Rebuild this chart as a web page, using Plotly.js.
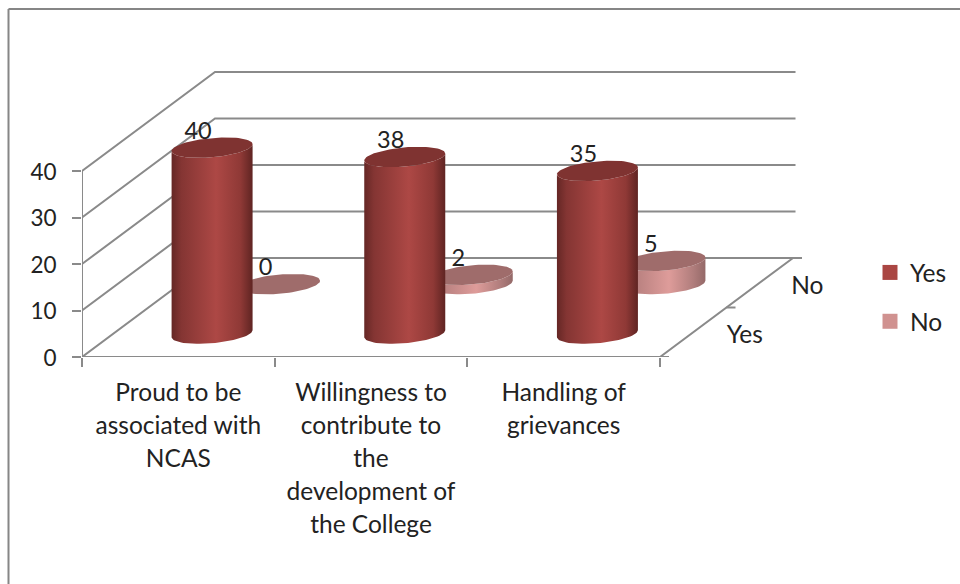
<!DOCTYPE html>
<html><head><meta charset="utf-8">
<script src="https://cdn.plot.ly/plotly-3.0.1.min.js"></script>
<style>html,body{margin:0;padding:0;background:#fff}#c{width:960px;height:584px}</style>
</head><body><div id="c"></div>
<script>
const categories = ["Proud to be<br>associated with<br>NCAS","Willingness to<br>contribute to<br>the<br>development of<br>the College","Handling of<br>grievances"];
const seriesNames = ["Yes","No"];
const yesValues = [40,38,35];
const noValues = [0,2,5];
const valueTicks = [0,10,20,30,40];

const FONT = "Lato, Carlito, sans-serif", TXT = "#222222", AX = "#8a8a8a";
const LEFT=82, RIGHT=850, BOTTOM=357, TOP=60;
const PXX=192.67, PXY=4.65;                 // px per category, px per value
const DX=135/PXX, DXW=133/PXX, DY=99/PXY;   // depth shear in data units (bars, walls)
const pt=(c,d,v)=>[c+d*DX, v+d*DY];
const wp=(c,d,v)=>[c+d*DXW, v+d*DY];
const px=(x)=>x/PXX, py=(y)=>y/PXY;

const traces=[];
function line(points,width){
  const x=[],y=[];
  points.forEach(p=>{ if(p){x.push(p[0]);y.push(p[1]);} else {x.push(null);y.push(null);} });
  traces.push({type:"scatter",mode:"lines",x,y,line:{color:AX,width:width||2},hoverinfo:"skip",showlegend:false});
}
// walls and floor
const nc=categories.length;
let g=[];
valueTicks.forEach(v=>{ const e=wp(nc,1,v); g.push(wp(0,0,v),wp(0,1,v),[e[0]+px(2.5),e[1]],null); });
line(g);
line([wp(0,0,0),wp(0,0,valueTicks[valueTicks.length-1]),null,wp(0,0,0),wp(nc,0,0),wp(nc,1,0)]);
// depth ticks
let dt=[];
[0,0.5,1].forEach(d=>{const p=wp(nc,d,0); dt.push(p,[p[0]+px(9),p[1]],null);});
line(dt);

const A=40.5,C=10.2,PHI=20*Math.PI/180;
function ring(c,d,v,t0,t1,n){
  const o=pt(c,d,v),r=[];
  for(let i=0;i<=n;i++){const t=t0+(t1-t0)*i/n;
    r.push([o[0]+px(A*Math.cos(t)), o[1]+py(C*Math.sin(t+PHI))]);}
  return r;
}
function poly(r,extra){
  traces.push(Object.assign({type:"scatter",mode:"lines",x:r.map(p=>p[0]),y:r.map(p=>p[1]),fill:"toself",
    line:{width:0},hoverinfo:"skip",showlegend:false},extra));
}
function cylinder(c,d,v,stops,top){
  if(v>0){
    const side=ring(c,d,-0.3,0,-Math.PI,40).concat(ring(c,d,v-0.3,-Math.PI,0,40));
    poly(side,{fillcolor:stops[2][1],fillgradient:{type:"horizontal",colorscale:stops}});
  }
  poly(ring(c,d,v-0.3,0,2*Math.PI,80),{fillcolor:top});
}
const yesStops=[[0,"#652725"],[0.12,"#843533"],[0.55,"#ad4845"],[0.85,"#8f3936"],[1,"#5f2422"]];
const noStops=[[0,"#8c6261"],[0.15,"#b98180"],[0.55,"#de9c9a"],[0.85,"#b07d7c"],[1,"#946968"]];
noValues.forEach((v,i)=>cylinder(i+0.5,0.75,v,noStops,"#9f6c6b"));
yesValues.forEach((v,i)=>cylinder(i+0.5,0.25,v,yesStops,"#7f3331"));

// data labels
const lx=[],ly=[],lt=[];
[[yesValues,0.25],[noValues,0.75]].forEach(([vals,d])=>vals.forEach((v,i)=>{
  const p=pt(i+0.5,d,v); lx.push(p[0]-px(14)); ly.push(p[1]+py(13.5)); lt.push(String(v));
}));
traces.push({type:"scatter",mode:"text",x:lx,y:ly,text:lt,textposition:"middle center",
  textfont:{family:FONT,size:23.5,color:TXT},hoverinfo:"skip",showlegend:false});
// depth axis labels
const dp=[pt(nc,0.25,0),pt(nc,0.75,0)];
traces.push({type:"scatter",mode:"text",x:dp.map((p,i)=>p[0]+px(i?30:33)),y:dp.map(p=>p[1]-py(5)),text:seriesNames,
  textposition:"middle right",textfont:{family:FONT,size:24.5,color:TXT},hoverinfo:"skip",showlegend:false});
// legend
seriesNames.forEach((n,i)=>traces.push({type:"scatter",mode:"markers",name:n,legendgroup:n,x:[null],y:[null],
  marker:{symbol:"square",size:15,color:["#aa4643","#d09290"][i]},hoverinfo:"skip"}));

const W=RIGHT-LEFT,H=BOTTOM-TOP;
const fx=p=>(p-LEFT)/W, fy=p=>(BOTTOM-p)/H;
const layout={
  width:960,height:584,paper_bgcolor:"#fff",plot_bgcolor:"rgba(0,0,0,0)",
  margin:{l:LEFT,r:960-RIGHT,t:TOP,b:584-BOTTOM,pad:0,autoexpand:false},
  font:{family:FONT,size:24.5,color:TXT},
  xaxis:{range:[0,W/PXX],showgrid:false,zeroline:false,showline:false,automargin:false,
    tickmode:"array",tickvals:categories.map((_,i)=>i+0.5),
    ticktext:categories.map(s=>s.split("<br>").map(t=>'<span style="font-size:24.5px">'+t+'</span>').join("<br>")),
    ticks:"",tickangle:0,tickfont:{family:FONT,size:25.4,color:TXT},ticklabelstandoff:18,
    minor:{tickmode:"array",tickvals:[0,1,2,3],ticks:"outside",ticklen:9,tickwidth:2,tickcolor:AX,showgrid:false}},
  yaxis:{range:[0,H/PXY],showgrid:false,zeroline:false,showline:false,automargin:false,
    tickmode:"array",tickvals:valueTicks,ticks:"outside",ticklen:9,tickwidth:2,tickcolor:AX,
    tickfont:{family:FONT,size:22.5,color:TXT},ticklabelstandoff:11,ticklabelshift:1},
  legend:{x:fx(870),xanchor:"left",y:fy(250),yanchor:"top",traceorder:"grouped",tracegroupgap:14,
    font:{family:FONT,size:24.5,color:TXT},bgcolor:"rgba(0,0,0,0)",itemclick:false,itemdoubleclick:false},
  shapes:[{type:"line",xref:"paper",yref:"paper",x0:fx(8.5),x1:fx(8.5),y0:fy(590),y1:fy(9),line:{color:"#868686",width:2}},
          {type:"line",xref:"paper",yref:"paper",x0:fx(8.5),x1:fx(965),y0:fy(9),y1:fy(9),line:{color:"#868686",width:2}}],
  showlegend:true,hovermode:false
};
Plotly.newPlot("c",traces,layout,{displayModeBar:false,staticPlot:true});
</script></body></html>
